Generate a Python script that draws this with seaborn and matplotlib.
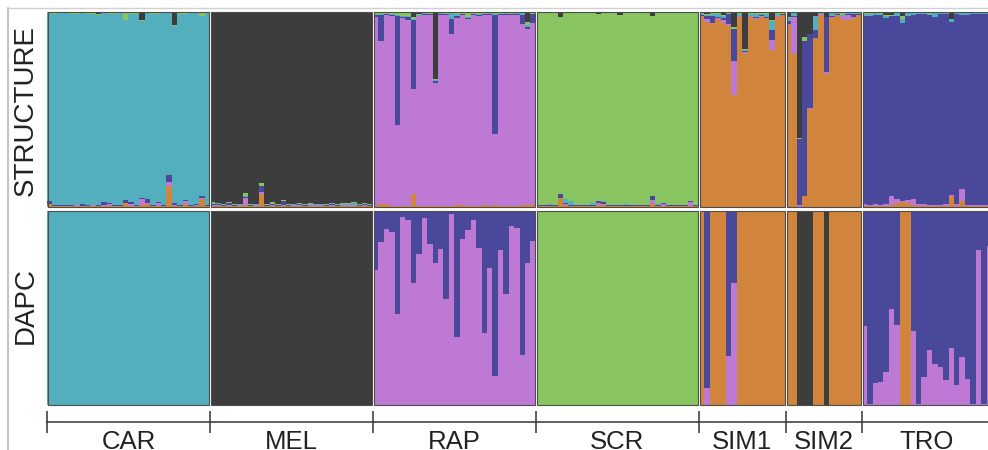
import matplotlib
matplotlib.use("Agg")
import matplotlib.pyplot as plt
import seaborn as sns
import pandas as pd
import numpy as np
from matplotlib.lines import Line2D
from matplotlib.patches import Rectangle


POPS = ["CAR", "MEL", "RAP", "SCR", "SIM1", "SIM2", "TRO"]
N_IND = [30, 30, 30, 30, 16, 14, 24]
MAIN = ["teal", "dark", "purple", "green", "orange", "orange", "blue"]
# stacking order inside a bar, bottom to top
CLUSTERS = ["orange", "purple", "blue", "teal", "green", "dark"]
PALETTE = {
    "orange": "#D1843C",
    "purple": "#BD79D3",
    "blue": "#4A489B",
    "teal": "#53AEBD",
    "green": "#88C45F",
    "dark": "#3D3D3D",
}

# STRUCTURE: membership (%) in the minor clusters, the own cluster fills the rest
S_CAR = {
    "orange": [1.4, .5, .3, .5, .3, .5, .4, .3, .5, .4, .5, .6, .4, .5, 2.0, .5, .4, .8, 1.7, .4,
               .5, .4, 10.6, .5, .4, 1.7, .4, .5, 4.3, .4],
    "purple": [.3, .2, .2, .2, .2, .3, .3, .2, .3, .2, .3, 1.0, .3, .2, .3, 1.0, .3, 3.4, .3, .2,
               1.7, .3, 2.2, .3, .2, 1.2, .2, .3, .3, .2],
    "blue": [1.2, .3, .4, .5, .3, .4, .7, .3, .4, .5, 1.7, .6, .4, .5, 1.4, 1.0, .4, .3, 2.0, .4,
             .5, .4, 3.4, 1.2, .4, .5, .4, .5, 1.2, .4],
    "green": [.5, .6, .4, .5, .6, .5, .4, .6, .5, .4, .5, .6, .5, .4, 4.0, .5, .6, .5, .4, .5,
              .6, .5, .4, .5, .6, .5, .4, .5, 2.0, .5],
    "dark": [.2, .2, .3, .2, .2, .3, .2, .2, .3, 1.0, .2, .2, .3, .2, .2, .3, .2, 4.0, .2, .3,
             .2, .2, .3, 6.7, .2, .3, .2, .2, .3, .2],
}
S_MEL = {
    "orange": [.4, .3, .3, .4, .3, .3, .8, .3, .3, 6.8, .3, .4, .3, .4, .3, .3, .4, .3, .3, .4,
               .3, .3, .4, .3, .3, .4, .3, .3, .4, .3],
    "purple": [.5, .6, .4, .5, .4, .5, 4.0, .4, .5, 1.0, .4, .5, .4, .5, .4, .5, .6, .4, .5, .4,
               .5, .4, .8, .4, .5, .4, .5, .4, .5, .4],
    "blue": [.6, .8, .3, 1.2, .3, .3, .4, .3, .3, 3.0, .3, .4, .3, 2.0, .3, .3, .4, .3, .3, .4,
             .3, .3, .4, .3, .3, .4, .3, .3, .4, .3],
    "teal": [.2, .2, .2, .2, .2, .2, .2, .2, .2, .2, .2, .2, .2, .2, .2, .2, .2, .2, .2, .2,
             .2, .2, .2, .2, .2, .2, .8, .2, .2, .2],
    "green": [.7, .3, .3, .3, .3, .3, 1.7, .3, .3, 1.2, .3, 1.0, .3, .7, .3, .3, .3, .3, .6, .3,
              .3, .3, .3, .3, .5, .5, .5, .3, .3, .3],
}
S_RAP = {
    "orange": [.5, 1.7, 1.7, .5, .4, .5, .4, 6.9, .5, .4, .5, .4, .5, .4, .5, .8, .8, .5, .4, .5,
               .8, .4, .8, .5, .4, .5, .4, .8, .8, 1.0],
    "blue": [.8, 13.4, .5, .6, 56.0, .5, 1.7, 35.4, .5, .4, .5, .7, .5, .4, 7.7, 1.2, .6, .4, .5, .4,
             .5, .4, 61.0, .5, .6, .5, .4, 4.3, .9, 4.3],
    "teal": [.3, .3, .3, .3, .3, .3, .3, .3, .3, .3, .3, .9, .3, .3, 3.0, 1.0, .3, .3, .3, .3,
             .3, .3, .3, .3, .3, .3, .3, .9, .9, .3],
    "green": [1.0, .6, .5, .6, 1.4, 1.7, 2.0, 1.2, .5, .4, .5, .3, .4, .5, .4, .6, .5, 2.5, .5, .9,
              .5, .4, .9, .5, .4, .5, .4, .4, 1.7, .5],
    "dark": [.3, .4, .3, .6, .3, .4, .3, 2.6, 1.0, .3, .3, 34.4, .3, .3, .3, .3, .3, .3, .3, .3,
             .3, .3, .3, .3, .3, .3, .3, .3, 5.2, .3],
}
S_SCR = {
    "orange": [.4, .3, .5, .3, 4.6, 1.2, .3, .3, .3, .4, .3, 1.2, 1.2, .3, .3, .4, .3, .3, .3, .4,
               .3, 1.5, .3, .4, .3, .3, .3, .3, .4, .3],
    "purple": [.2, .2, .2, .2, .2, .2, .2, .2, .2, .2, .2, .9, .2, .2, .2, .2, .2, .2, .2, .2,
               .2, 2.2, .2, .9, .2, .2, .2, .2, 2.0, .2],
    "blue": [.3, .3, .3, .3, 1.7, .9, .3, .3, .3, .3, .3, .9, 1.4, .3, .3, .3, .3, .3, .3, .3,
             .3, 1.7, .3, .5, .3, .3, .3, .3, .5, .3],
    "teal": [.2, .2, .5, .2, .2, 1.7, 2.5, .2, .2, .2, 1.2, .2, .2, .2, .2, .2, .8, .2, .2, .2,
             .2, .2, .9, .2, .2, .2, .2, .2, .2, .2],
    "dark": [.3, .3, .3, .3, 2.7, .3, .3, .3, .3, .3, .3, 1.0, .3, .3, .3, 1.5, .3, .3, .3, .4,
             .3, 2.0, .3, .6, .3, .3, .3, .3, .3, .3],
}
S_SIM1 = {
    "purple": [.5, 1.2, .9, .3, 1.7, 1.4, 17.5, .3, .3, .3, .3, .9, .3, 5.3, .3, .3],
    "blue": [1.0, 2.0, 3.5, .5, 1.0, 4.8, 16.3, .3, .3, .3, .5, .5, .4, 5.0, .3, .3],
    "teal": [.5, .3, 1.2, 2.0, 1.0, .3, .3, 1.2, .9, 1.0, 2.0, .5, 1.7, 4.8, .7, .3],
    "green": [.3, .3, .3, .3, .3, .3, .9, .3, .3, .3, .3, .3, .3, .3, .7, .3],
    "dark": [.5, 1.2, .5, .5, 1.7, .5, 7.7, .5, 19.0, .5, .5, .5, .5, 4.3, .5, .5],
}
S_SIM2 = {
    "purple": [.5, 19.0, 1.2, 0, .5, .3, .3, .9, .3, .3, 1.7, 2.6, .3, .3],
    "blue": [1.7, .3, 33.5, 79.4, 37.8, 3.8, .3, 28.4, .3, .3, .3, .5, 1.7, .5],
    "teal": [1.7, 1.7, 0, 0, 0, 7.2, .3, 0, 1.7, .5, .3, .3, .3, .3],
    "green": [.3, .3, .9, 2.2, 0, 0, .3, 0, .3, .3, 1.2, .3, .3, .3],
    "dark": [2.6, .3, 64.4, 12.9, 11.2, 2.2, .3, 2.6, .3, .3, .3, .3, .3, .3],
}
S_TRO = {
    "orange": [.5, .5, .5, .5, .5, 1.2, 2.0, 2.6, 2.0, 1.2, .5, .5, .5, .5, .5, .3, 5.5, .3, 3.0, .3,
               .3, .3, .3, .3],
    "purple": [.9, .5, .9, .5, .9, 4.3, 2.0, .5, 1.7, 2.9, .9, .9, .5, .5, .5, 1.2, .5, 1.2, 6.0, .5,
               .5, .5, .5, .5],
    "teal": [.9, .9, .9, .5, .9, .3, 1.2, 2.2, 1.2, .9, .5, .3, .5, 2.2, .3, .3, 1.2, .3, .9, .9,
             .3, .3, .3, .3],
    "green": [.9, .9, .5, .9, .3, .3, .3, 1.2, .5, .5, .5, .3, .9, .3, .3, .5, .3, .3, .5, .3,
              .3, .5, .3, .3],
    "dark": [.2, .2, .2, .2, 1.7, 1.7, .3, 2.2, .2, .2, .2, .2, .2, .2, .2, .2, 3.4, .2, .2, .2,
             .2, .2, .2, .2],
}

# DAPC: membership (%), the own cluster fills the rest
D_RAP_BLUE = [30.3, 16.1, 9.2, 10.7, 52.9, 2.9, 4.7, 36.9, 22.0, 3.5, 16.8, 26.9, 19.4, 45.4, 1.4,
              65.2, 14.2, 10.0, 4.7, 19.2, 62.9, 29.6, 84.9, 19.9, 42.8, 7.6, 8.7, 74.0, 26.9, 15.3]
D_SIM1_PURPLE = [0, 9.0, 0, 0, 0, 25.5, 62.7, 0, 0, 0, 0, 0, 0, 0, 0, 0]
D_SIM1_BLUE = [0, 91.0, 0, 0, 0, 74.5, 37.3, 0, 0, 0, 0, 0, 0, 0, 0, 0]
D_SIM2_DARK = [0, 0, 100, 100, 100, 0, 0, 100, 0, 0, 0, 0, 0, 0]
D_TRO_PURPLE = [40.6, .5, 11.3, 12.1, 17.2, 49.7, 41.1, 0, 0, 38.1, .5, 14.2, 28.4, 21.1, 19.8,
                12.8, 29.5, 10.2, 25.0, 13.3, .5, 80.0, .5, 81.8]
D_TRO_ORANGE = [0, 0, 0, 0, 0, 0, 0, 100, 100, 0, 0, 0, 0, 0, 0, 0, 0, 0, 0, 0, 0, 0, 0, 0]

S_MINOR = [S_CAR, S_MEL, S_RAP, S_SCR, S_SIM1, S_SIM2, S_TRO]
D_MINOR = [{}, {}, {"blue": D_RAP_BLUE},  {},
           {"purple": D_SIM1_PURPLE, "blue": D_SIM1_BLUE},
           {"dark": D_SIM2_DARK},
           {"purple": D_TRO_PURPLE, "orange": D_TRO_ORANGE}]


def long_table(minors: list) -> pd.DataFrame:
    rows = []
    offset = 0
    for pop, n, main, minor in zip(POPS, N_IND, MAIN, minors):
        for i in range(n):
            vals = {c: minor[c][i] for c in minor}
            vals[main] = 100 - sum(vals.values())
            for c in CLUSTERS:
                rows.append({"ind": offset + i, "cluster": c, "q": vals.get(c, 0) / 100})
        offset += n
    return pd.DataFrame(rows)


sns.set_style("white")
plt.rcParams["font.family"] = ["Liberation Sans", "DejaVu Sans"]

W, H = 988, 450
fig = plt.figure(figsize=(W / 100, H / 100), dpi=100)
ax_s = fig.add_axes([47 / W, 1 - 207 / H, 941 / W, 195 / H])
ax_d = fig.add_axes([47 / W, 1 - 405 / H, 941 / W, 194 / H])

bounds = np.cumsum([0] + N_IND) - 0.5
centers = (bounds[:-1] + bounds[1:]) / 2
xmax = sum(N_IND[:-1]) + 23 - 0.5 + 0.25
gap = 0.18

for ax, minors in [(ax_s, S_MINOR), (ax_d, D_MINOR)]:
    df = long_table(minors)
    sns.histplot(data=df, x="ind", weights="q", hue="cluster", hue_order=CLUSTERS[::-1],
                 palette=PALETTE, multiple="stack", discrete=True, shrink=1,
                 linewidth=0, alpha=1, legend=False, ax=ax)
    ax.set_xlim(-0.5, xmax)
    ax.set_ylim(0, 1)
    ax.set_ylabel("")
    ax.set_xlabel("")
    ax.set_yticks([])
    for b in bounds[1:-1]:
        ax.axvspan(b - gap, b + gap, color="white", lw=0, zorder=5)
    for x0, x1 in zip(bounds[:-1], bounds[1:]):
        ax.add_patch(Rectangle((x0 + gap, 0), x1 - x0 - 2 * gap, 1, fill=False,
                               ec="#4d4d4d", lw=0.8, zorder=6, clip_on=False))
    for side in ["top", "right", "left"]:
        ax.spines[side].set_visible(False)

ax_s.spines["bottom"].set_visible(False)
ax_s.set_xticks([])

ax_d.spines["bottom"].set_position(("outward", 12.2))
ax_d.spines["bottom"].set_color("#333333")
ax_d.spines["bottom"].set_linewidth(1.1)
ax_d.set_xticks(bounds[:-1])
ax_d.set_xticklabels([])
ax_d.tick_params(axis="x", which="major", direction="inout", length=16, width=1.1,
                 color="#333333", bottom=True)
ax_d.set_xticks(centers, minor=True)
ax_d.set_xticklabels(POPS, minor=True)
ax_d.tick_params(axis="x", which="minor", length=0, labelsize=18.5, pad=5.5,
                 labelcolor="#222222")

fig.text(26 / W, 1 - 111 / H, "STRUCTURE", rotation=90, ha="center", va="center",
         fontsize=20, color="#222222")
fig.text(26 / W, 1 - 305 / H, "DAPC", rotation=90, ha="center", va="center",
         fontsize=20, color="#222222")

fig.add_artist(Line2D([8 / W, 8 / W], [0, 1 - 8 / H], color="#c4c4c4", lw=1.5))
fig.add_artist(Line2D([8 / W, 1], [1 - 8 / H, 1 - 8 / H], color="#d0d0d0", lw=1))

fig.savefig("out.png", dpi=100)
